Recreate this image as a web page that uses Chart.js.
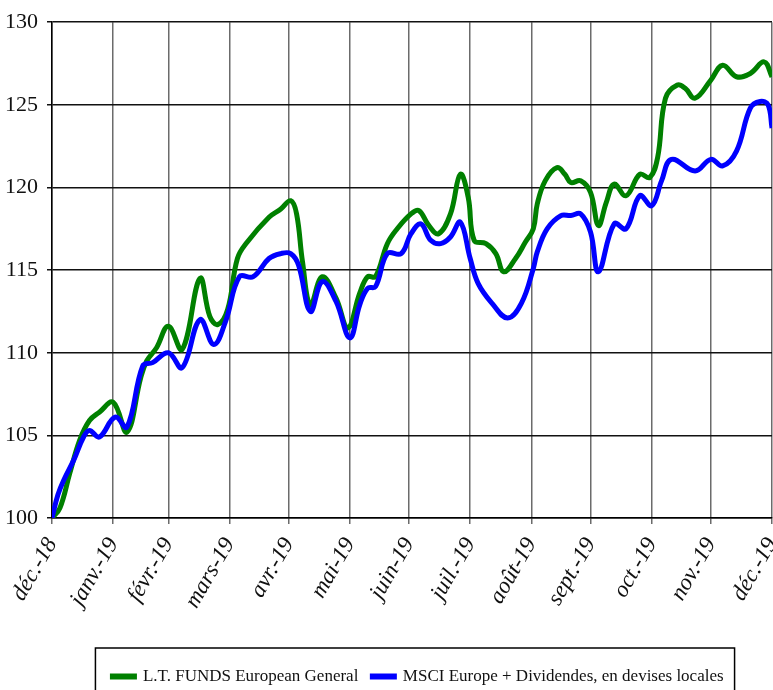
<!DOCTYPE html>
<html>
<head>
<meta charset="utf-8">
<script src="https://cdn.jsdelivr.net/npm/chart.js@4.4.1/dist/chart.umd.min.js"></script>
<style>
  html, body { margin: 0; padding: 0; background: #fff; }
  #wrap { width: 773px; height: 690px; }
</style>
</head>
<body>
<div id="wrap"><canvas id="perfChart" width="773" height="690"></canvas></div>
<script>
// days since 31 Dec 2018 where each month label sits
const monthDays = [0, 31, 59, 90, 120, 151, 181, 212, 243, 273, 304, 334, 365];
const monthLabels = ['déc.-18', 'janv.-19', 'févr.-19', 'mars-19', 'avr.-19', 'mai-19',
  'juin-19', 'juil.-19', 'août-19', 'sept.-19', 'oct.-19', 'nov.-19', 'déc.-19'];

const seriesNames = ['L.T. FUNDS European General', 'MSCI Europe + Dividendes, en devises locales'];

// fund (green)
const fundDays = [0, 4, 9, 14, 19, 24, 31, 38, 45, 48, 53, 59, 66, 75, 80, 84, 89, 94, 99, 110,
  116, 121, 124, 127, 131, 137, 144, 150, 156, 160, 164, 170, 175, 182, 186, 191, 196, 202, 207, 211,
  214, 220, 225, 229, 235, 240, 244, 246, 250, 256, 260, 263, 268, 273, 277, 281, 285, 291, 298, 303,
  307, 311, 317, 321, 326, 334, 340, 347, 354, 361, 365];
const fundValues = [100.0, 100.6, 102.7, 104.7, 105.9, 106.4, 107.0, 105.2, 108.5, 109.5,
  110.3, 111.6, 110.2, 114.5, 112.2, 111.7, 112.6, 115.7, 116.7, 118.2,
  118.7, 119.2, 118.4, 115.5, 112.9, 114.6, 113.3, 111.5, 113.6, 114.6,
  114.6, 116.6, 117.5, 118.4, 118.6, 117.7, 117.2, 118.4, 120.8, 119.4,
  116.8, 116.6, 116.0, 114.9, 115.7, 116.7, 117.5, 119.0, 120.4, 121.2,
  120.8, 120.3, 120.4, 119.7, 117.7, 119.1, 120.2, 119.5, 120.8, 120.6,
  121.8, 125.4, 126.2, 126.0, 125.4, 126.5, 127.4, 126.7, 126.9, 127.6, 126.7];

// index (blue)
const indexDays = [0, 3, 6, 11, 16, 19, 24, 32, 38, 46, 51, 59, 66, 75, 82, 88, 95, 102, 110, 116,
  121, 125, 131, 137, 144, 151, 156, 160, 164, 170, 177, 182, 187, 192, 197, 202, 207, 212, 216, 223,
  231, 238, 244, 246, 251, 258, 263, 268, 273, 277, 285, 291, 298, 304, 309, 314, 326, 334, 340, 347,
  354, 359, 363, 365];
const indexValues = [100.0, 101.4, 102.3, 103.5, 104.9, 105.3, 104.9, 106.1, 105.5, 109.2,
  109.4, 110.0, 109.1, 112.0, 110.5, 111.9, 114.6, 114.6, 115.7, 116.0,
  116.0, 115.3, 112.5, 114.3, 113.1, 110.9, 112.9, 113.9, 114.0, 116.0,
  116.0, 117.2, 117.8, 116.8, 116.6, 117.0, 117.9, 115.7, 114.2, 113.0,
  112.1, 113.0, 115.1, 116.1, 117.5, 118.3, 118.3, 118.4, 117.3, 114.9,
  117.8, 117.5, 119.5, 118.9, 120.4, 121.7, 121.0, 121.7, 121.3, 122.2,
  124.8, 125.2, 125.0, 123.6];

const yMin = 100, yMax = 130, yStep = 5;

const toPoints = (days, vals) => days.map((d, i) => ({x: d, y: vals[i]}));

// boxed legend, sitting a bit right of centre like the original
const legendFrame = {
  id: 'legendFrame',
  afterLayout(chart) {
    const lg = chart.legend;
    if (!lg) return;
    lg.left += 32;
    lg.right += 32;
    lg.top += 5;
    lg.bottom += 5;
  },
  afterDraw(chart) {
    const lg = chart.legend;
    if (!lg || !lg.legendHitBoxes.length) return;
    const boxes = lg.legendHitBoxes;
    const left = Math.min(...boxes.map(b => b.left)) - 17;
    const right = Math.max(...boxes.map(b => b.left + b.width)) + 11;
    const top = lg.top - 6;
    const ctx = chart.ctx;
    ctx.save();
    ctx.strokeStyle = '#000';
    ctx.lineWidth = 1.5;
    ctx.strokeRect(left, top, right - left, chart.height - top + 10);
    ctx.restore();
  }
};

new Chart(document.getElementById('perfChart'), {
  type: 'line',
  data: {
    datasets: [
      {
        label: seriesNames[0],
        data: toPoints(fundDays, fundValues),
        borderColor: '#008000',
        backgroundColor: '#008000',
        borderWidth: 5,
        pointRadius: 0,
        tension: 0.4,
        order: 2
      },
      {
        label: seriesNames[1],
        data: toPoints(indexDays, indexValues),
        borderColor: '#0000ff',
        backgroundColor: '#0000ff',
        borderWidth: 5,
        pointRadius: 0,
        tension: 0.4,
        order: 1
      }
    ]
  },
  options: {
    responsive: false,
    animation: false,
    devicePixelRatio: 1,
    layout: {padding: {top: 20, right: 1, left: 0, bottom: 0}},
    plugins: {
      tooltip: {enabled: false},
      legend: {
        position: 'bottom',
        labels: {
          boxWidth: 22,
          boxHeight: 1,
          padding: 14,
          color: '#111',
          font: {family: 'Liberation Serif', size: 17},
          sort: (a, b) => a.datasetIndex - b.datasetIndex
        }
      }
    },
    scales: {
      x: {
        type: 'linear',
        min: monthDays[0],
        max: monthDays[monthDays.length - 1],
        afterBuildTicks: (scale) => { scale.ticks = monthDays.map(v => ({value: v})); },
        afterFit: (scale) => {
          scale.height = 131;
          scale.paddingLeft = 0;
          scale.paddingRight = 0;
        },
        grid: {color: '#6b6b6b', lineWidth: 1.5, tickLength: 6},
        border: {color: '#000', width: 1.5},
        ticks: {
          autoSkip: false,
          minRotation: 60,
          maxRotation: 60,
          padding: 9,
          color: '#111',
          font: {family: 'Liberation Serif', size: 23, style: 'italic'},
          callback: (value, index) => monthLabels[index]
        }
      },
      y: {
        min: yMin,
        max: yMax,
        afterFit: (scale) => { scale.width = 52; },
        grid: {color: '#111', lineWidth: 1.5, tickLength: 5},
        border: {color: '#000', width: 1.5},
        ticks: {
          stepSize: yStep,
          padding: 9,
          color: '#111',
          font: {family: 'Liberation Serif', size: 22}
        }
      }
    }
  },
  plugins: [legendFrame]
});
</script>
</body>
</html>
